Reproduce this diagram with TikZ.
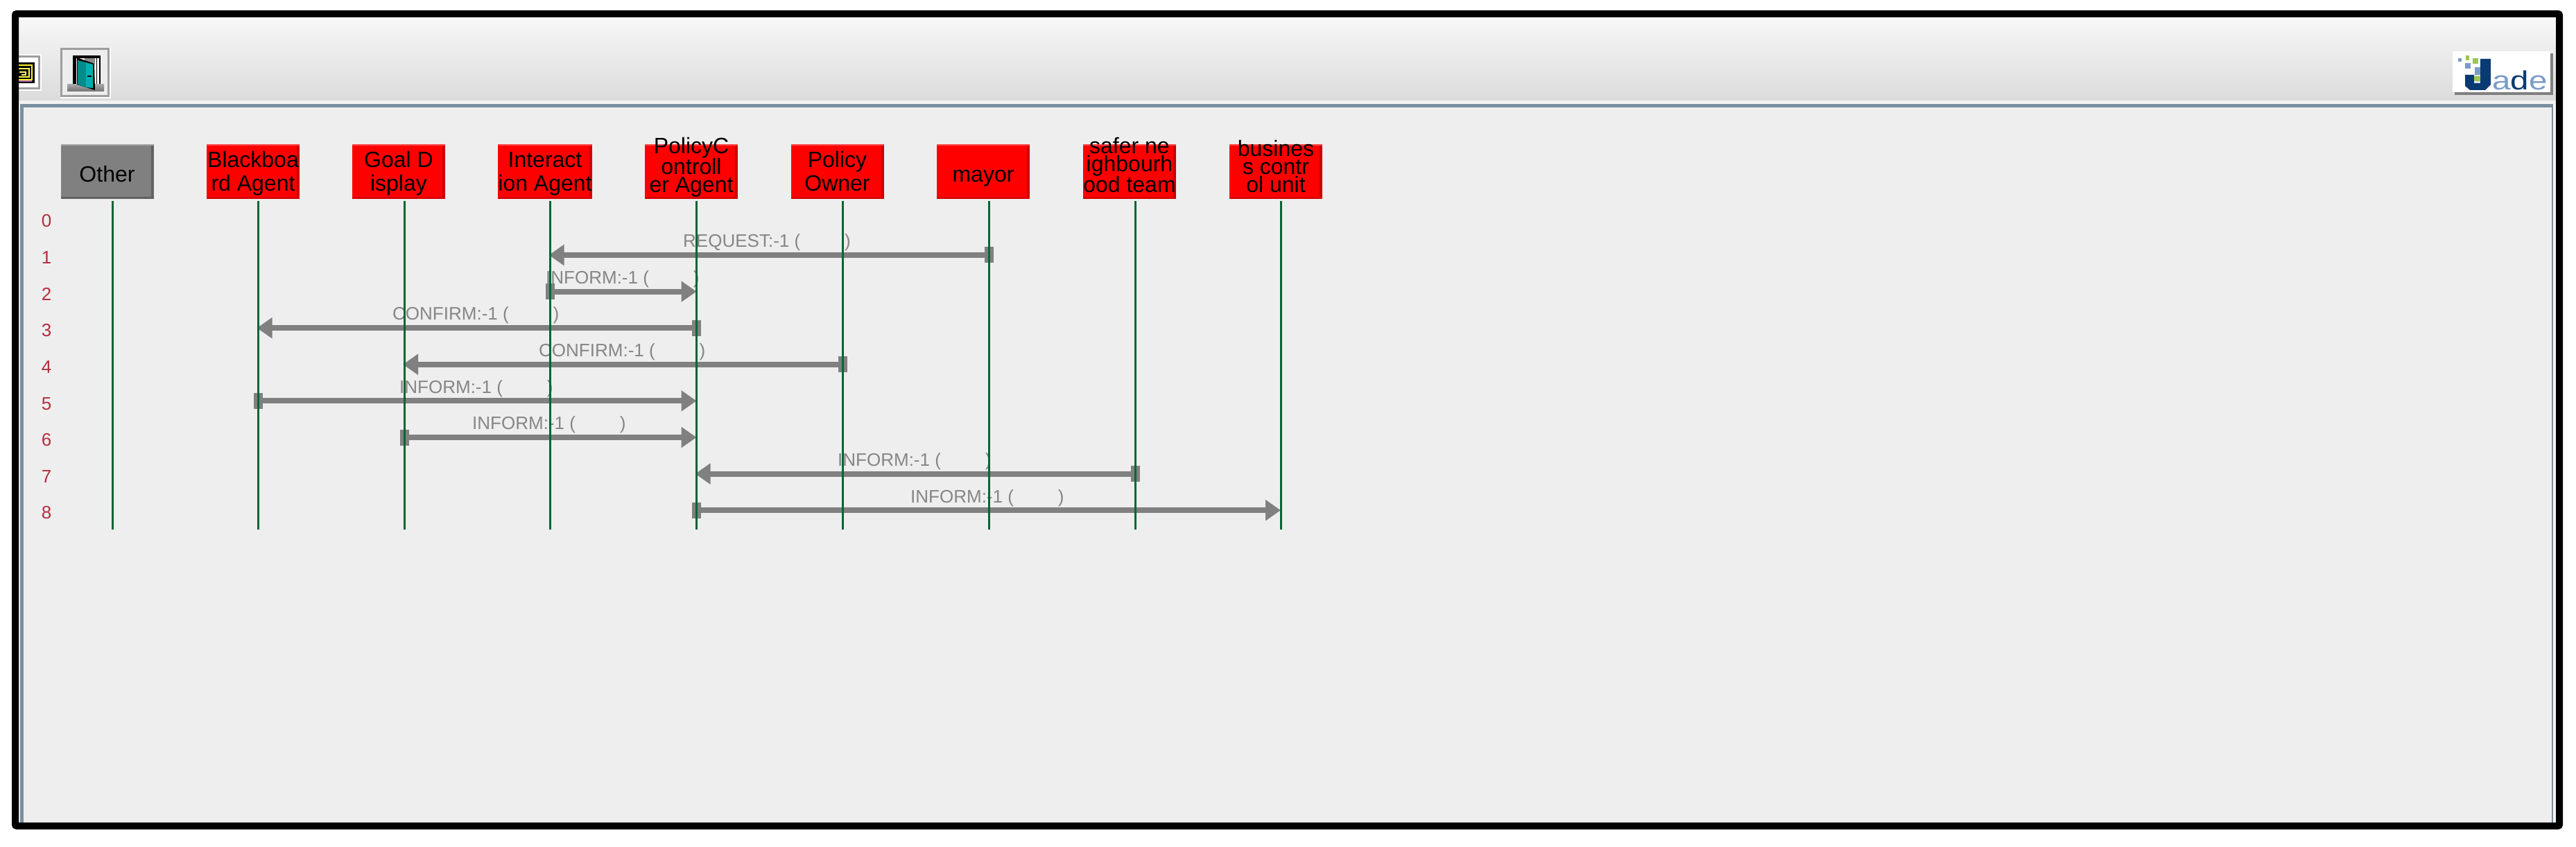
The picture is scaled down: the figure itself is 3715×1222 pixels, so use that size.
\documentclass[tikz,border=0pt]{standalone}
\usepackage{fontspec}
\setmainfont{Liberation Sans}
\usetikzlibrary{arrows.meta}
\definecolor{panelbg}{HTML}{EEEEEE}
\definecolor{panelbd}{HTML}{7A90A0}
\definecolor{msggray}{HTML}{808080}
\definecolor{lifegreen}{HTML}{006633}
\definecolor{rownum}{HTML}{B03040}
\definecolor{jadedark}{HTML}{0A3A72}
\definecolor{jadeblue}{HTML}{7A9CC8}
\definecolor{jadegreen}{HTML}{9CC850}
\definecolor{doordark}{HTML}{008C8C}
\definecolor{doorlight}{HTML}{00B0B0}
\tikzset{
  agentbase/.style={rectangle,inner sep=0pt,minimum width=134pt,text=black,align=center,
    font=\fontsize{32}{26}\selectfont},
  oneline/.style={text height=55pt,text depth=24pt},
  twoline/.style={text height=68pt,text depth=11pt,font=\fontsize{32}{34}\selectfont},
  threeline/.style={text height=70pt,text depth=9pt,font=\fontsize{32}{26}\selectfont},
  redbox/.style={agentbase,fill=red,path picture={
    \fill[red!80!black] ([xshift=-4pt]path picture bounding box.north east) rectangle (path picture bounding box.south east);
    \fill[red!85!black] ([yshift=3pt]path picture bounding box.south west) rectangle (path picture bounding box.south east);
    \fill[red!70!white] (path picture bounding box.north west) rectangle ([yshift=-2pt]path picture bounding box.north east);}},
  graybox/.style={agentbase,fill=msggray,path picture={
    \fill[black!62] ([xshift=-4pt]path picture bounding box.north east) rectangle (path picture bounding box.south east);
    \fill[black!62] ([yshift=3pt]path picture bounding box.south west) rectangle (path picture bounding box.south east);
    \fill[black!35] (path picture bounding box.north west) rectangle ([yshift=-2pt]path picture bounding box.north east);}},
  lifeline/.style={draw=lifegreen,line width=3pt},
  msg/.style={draw=msggray,line width=8pt,shorten <=-6.5pt,
    {Rectangle[length=13pt,width=23pt]}-{Triangle[length=22pt,width=29pt]}},
  msglabel/.style={anchor=base west,inner sep=0pt,text=msggray!95!white,font=\fontsize{26}{28}\selectfont},
  rowlabel/.style={anchor=base,inner sep=0pt,text=rownum,font=\fontsize{26}{28}\selectfont},
}
\newcommand{\gapp}{\hspace{64pt}}
\begin{document}
\begin{tikzpicture}[x=1pt,y=-1pt]
\useasboundingbox (0,0) rectangle (3715,1222);
\fill[white] (0,0) rectangle (3715,1222);
% toolbar
\shade[top color=black!3,bottom color=black!14] (27,25) rectangle (3686,145);
\fill[black!5] (27,145) rectangle (3686,150);
% panel
\fill[white!96!black] (27,150) rectangle (3686,1187);
\fill[panelbd] (29,150) rectangle (3682,1187);
\fill[panelbg] (34,155) rectangle (3680,1187);
% left icon button
\fill[white] (27,78) rectangle (60,131);
\draw[black!38,line width=3pt] (20,81.5) -- (56.5,81.5) -- (56.5,128) -- (20,128);
\fill[black] (20,90) rectangle (50,120);
\draw[yellow!85!white,line width=1.6pt] (20,94) -- (46,94) -- (46,115) -- (20,115);
\draw[yellow!70!white,line width=1.6pt] (20,99) -- (42,99) -- (42,111) -- (20,111);
\draw[yellow!60!white,line width=1.6pt] (28,104) -- (37,104) -- (37,108) -- (31,108);
\fill[violet!60!white] (27,116) rectangle (46,118);
% door button
\fill[white] (87,69) rectangle (160,142);
\fill[black!7] (90,72) rectangle (155,137);
\draw[black!38,line width=3pt] (88.5,70.5) rectangle (156.5,138.5);
\fill[black] (105,80) rectangle (145,122);
\fill[white] (110,84) rectangle (139,122);
\fill[black!45] (122,84) rectangle (137,92);
\fill[white] (140,84) rectangle (143,122);
\shade[top color=black!35,bottom color=black!55] (97,122) rectangle (150,132);
\fill[black] (111,83) -- (136,92) -- (137,130) -- (111,122) -- cycle;
\fill[doordark] (112,87) -- (124,90) -- (124,126) -- (112,122) -- cycle;
\fill[doorlight] (124,90) -- (134,93) -- (134,127) -- (124,126) -- cycle;
\fill[black] (126,109) rectangle (132,111);
% JADE logo
\fill[black!50] (3540,77) rectangle (3682,137);
\fill[white] (3537,74) rectangle (3678,133);
\fill[jadedark] (3577,85) -- (3592,85) -- (3592,122) -- (3584,130) -- (3562,130) -- (3555,124) -- (3555,108) -- (3577,108) -- cycle;
\fill[white!70!jadeblue] (3568,108) rectangle (3577,120);
\fill[jadegreen] (3568,110) rectangle (3577,117);
\fill[jadeblue] (3569,97) rectangle (3577,108);
\fill[jadegreen] (3566,84) rectangle (3574,92);
\fill[jadeblue] (3555,91) rectangle (3563,99);
\fill[jadegreen] (3556,80) rectangle (3561,87);
\fill[jadeblue] (3545,84) rectangle (3550,89);
\node[anchor=base west,inner sep=0pt,xscale=1.25,font=\fontsize{38}{40}\selectfont] (jadetext) at (3594,130)
  {\textcolor{jadeblue}{a}\textcolor{jadedark}{d}\textcolor{jadeblue}{e}};
% agents
\node[graybox,oneline] (a0) at (154.5,247.5) {Other};
\node[redbox,twoline] (a1) at (365,247.5) {Blackboa\\rd Agent};
\node[redbox,twoline] (a2) at (575,247.5) {Goal D\\isplay};
\node[redbox,twoline] (a3) at (786,247.5) {Interact\\ion Agent};
\node[redbox,threeline] (a4) at (997,247.5) {PolicyC\\ontroll\\er Agent};
\node[redbox,twoline] (a5) at (1207.5,247.5) {Policy\\Owner};
\node[redbox,oneline] (a6) at (1418,247.5) {mayor};
\node[redbox,threeline] (a7) at (1629,247.5) {safer ne\\ighbourh\\ood team};
\node[redbox,threeline] (a8) at (1840,247.5) {busines\\s contr\\ol unit};
% lifeline anchors and rows
\foreach \i/\xx in {0/162,1/372.5,2/583,3/793.5,4/1004.5,5/1215,6/1426,7/1637,8/1847}{
  \coordinate (top\i) at (\xx,290);
  \coordinate (end\i) at (\xx,764);
}
\foreach \r/\yy in {1/368,2/420.6,3/473.2,4/525.8,5/578.4,6/631,7/683.6,8/736.2}{
  \coordinate (row\r) at (0,\yy);
}
% messages
\draw[msg] (top6 |- row1) -- ([xshift=-2pt]top3 |- row1);
\draw[msg] (top3 |- row2) -- (top4 |- row2);
\draw[msg] (top4 |- row3) -- ([xshift=-2pt]top1 |- row3);
\draw[msg] (top5 |- row4) -- ([xshift=-2pt]top2 |- row4);
\draw[msg] (top1 |- row5) -- (top4 |- row5);
\draw[msg] (top2 |- row6) -- (top4 |- row6);
\draw[msg] (top7 |- row7) -- ([xshift=-2pt]top4 |- row7);
\draw[msg] (top4 |- row8) -- (top8 |- row8);
% message labels
\node[msglabel] (m1) at (985,356.5) {REQUEST:-1 (\gapp)};
\node[msglabel] (m2) at (787,409) {INFORM:-1 (\gapp)};
\node[msglabel] (m3) at (566,461.7) {CONFIRM:-1 (\gapp)};
\node[msglabel] (m4) at (777,514.3) {CONFIRM:-1 (\gapp)};
\node[msglabel] (m5) at (576,567) {INFORM:-1 (\gapp)};
\node[msglabel] (m6) at (681,619.7) {INFORM:-1 (\gapp)};
\node[msglabel] (m7) at (1208,672.3) {INFORM:-1 (\gapp)};
\node[msglabel] (m8) at (1313,725) {INFORM:-1 (\gapp)};
% lifelines on top
\foreach \i in {0,...,8}{
  \draw[lifeline] (top\i) -- (end\i);
}
% row numbers
\foreach \n/\yy in {0/328,1/380.6,2/433.2,3/485.8,4/538.4,5/591,6/643.6,7/696.2,8/748.8}{
  \node[rowlabel] (rn\n) at (67,\yy) {\n};
}
% outer frame
\draw[black,line width=10pt,rounded corners=2pt] (22,20) -- (3691,20) -- (3691,1191.5) -- (22,1191.5) -- cycle;
\end{tikzpicture}
\end{document}
